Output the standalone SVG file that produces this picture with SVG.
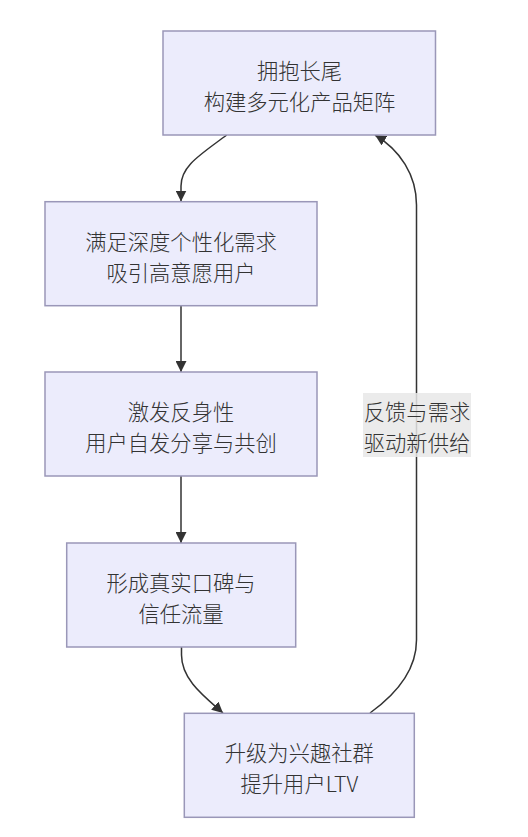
<svg xmlns="http://www.w3.org/2000/svg" width="528" height="837" viewBox="0 0 528 837">
<defs>
<marker id="arrow" viewBox="0 0 10 10" refX="10" refY="5" markerUnits="userSpaceOnUse" markerWidth="11" markerHeight="11" orient="auto">
<path d="M0,0 L10,5 L0,10 z" fill="#333333"/>
</marker>
<style>
.node rect{fill:#ececfc;stroke:#9a97b8;stroke-width:1.5}
.node text,.label text{font-family:"Noto Sans CJK SC","Liberation Sans",sans-serif;font-size:21.3px;font-weight:300;fill:#333333;text-anchor:middle;dominant-baseline:central}
.edge{fill:none;stroke:#333333;stroke-width:1.5;marker-end:url(#arrow)}
.label rect{fill:#e8e8e8;fill-opacity:0.85}
</style>
</defs>
<rect width="528" height="837" fill="#ffffff"/>
<g id="connectors">
<path class="edge" d="M226.7,135 C200,155 181,166 181,186 L181,201.5"/>
<path class="edge" d="M181,306 L181,372"/>
<path class="edge" d="M181,476 L181,543"/>
<path class="edge" d="M181.5,647 L181.5,655 C181.5,680 205,697 223,713"/>
<path class="edge" d="M370,713 C395,695 416.5,670 416.5,640 L416.5,205 C416.5,175 400,150 375,135"/>
<g class="label" id="label-feedback">
<rect x="363" y="393" width="108" height="64"/>
<text x="417" y="410">反馈与需求</text>
<text x="417" y="441">驱动新供给</text>
</g>
</g>
<g id="n1" class="node">
<rect x="163" y="31" width="272.5" height="104"/>
<text x="299.5" y="69">拥抱长尾</text>
<text x="299.5" y="100">构建多元化产品矩阵</text>
</g>
<g id="n2" class="node">
<rect x="45" y="201.7" width="272" height="104"/>
<text x="181" y="240">满足深度个性化需求</text>
<text x="181" y="271">吸引高意愿用户</text>
</g>
<g id="n3" class="node">
<rect x="45" y="372" width="272" height="104"/>
<text x="181" y="410">激发反身性</text>
<text x="181" y="441">用户自发分享与共创</text>
</g>
<g id="n4" class="node">
<rect x="66.7" y="543" width="229" height="104"/>
<text x="181" y="581">形成真实口碑与</text>
<text x="181" y="612">信任流量</text>
</g>
<g id="n5" class="node">
<rect x="184.3" y="713.3" width="230" height="104"/>
<text x="299.3" y="751">升级为兴趣社群</text>
<text x="299.3" y="782">提升用户LTV</text>
</g>
</svg>
